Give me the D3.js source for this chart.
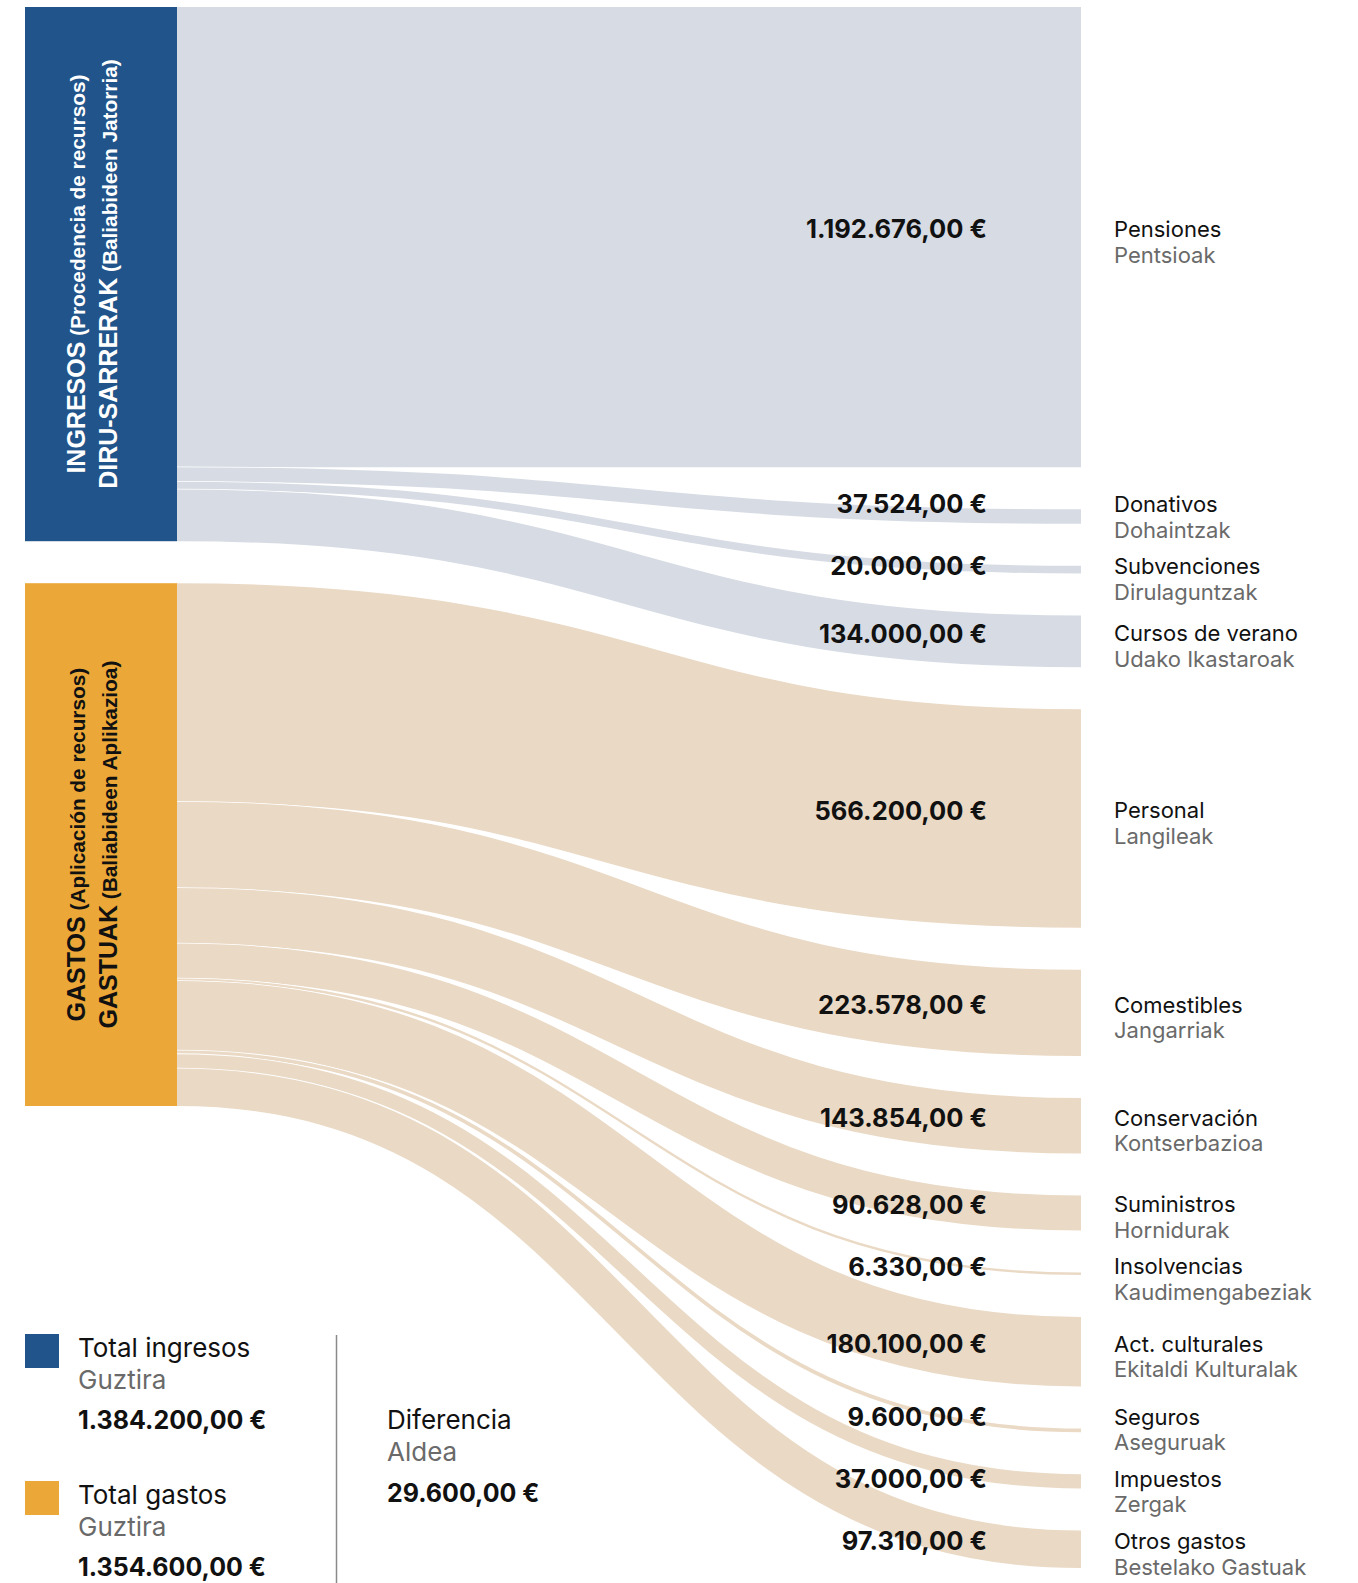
<!DOCTYPE html>
<html>
<head>
<meta charset="utf-8">
<script src="https://cdn.jsdelivr.net/npm/d3@7"></script>
<style>
  html, body { margin: 0; padding: 0; background: #ffffff; }
  svg { display: block; }
</style>
</head>
<body>
<svg id="chart" width="1358" height="1583"></svg>
<script>
// ---------- DATA ----------
const sourceKeys = ["ingresos", "gastos"];
const sourceTitles = ["INGRESOS", "GASTOS"];
const sourceSubtitles = ["(Procedencia de recursos)", "(Aplicación de recursos)"];
const sourceTitlesEu = ["DIRU-SARRERAK", "GASTUAK"];
const sourceSubtitlesEu = ["(Baliabideen Jatorria)", "(Baliabideen Aplikazioa)"];

const incomeCategories = ["Pensiones", "Donativos", "Subvenciones", "Cursos de verano"];
const incomeCategoriesEu = ["Pentsioak", "Dohaintzak", "Dirulaguntzak", "Udako Ikastaroak"];
const incomeValues = [1192676, 37524, 20000, 134000];

const expenseCategories = ["Personal", "Comestibles", "Conservación", "Suministros", "Insolvencias",
  "Act. culturales", "Seguros", "Impuestos", "Otros gastos"];
const expenseCategoriesEu = ["Langileak", "Jangarriak", "Kontserbazioa", "Hornidurak", "Kaudimengabeziak",
  "Ekitaldi Kulturalak", "Aseguruak", "Zergak", "Bestelako Gastuak"];
const expenseValues = [566200, 223578, 143854, 90628, 6330, 180100, 9600, 37000, 97310];

const legendLabels = ["Total ingresos", "Total gastos"];
const legendLabelsEu = ["Guztira", "Guztira"];
const diffLabel = "Diferencia";
const diffLabelEu = "Aldea";

// ---------- STYLE ----------
const nodeColors = { ingresos: "#21548A", gastos: "#EBA737" };
const linkColors = { ingresos: "#D7DCE4", gastos: "#EAD9C4" };
const nodeTextColors = { ingresos: "#ffffff", gastos: "#111111" };
const GREY = "#6a6a6a";
const INK = "#111111";
const SANS = "Inter, 'Noto Sans', sans-serif";
const ARIAL = "'Liberation Sans', Arial, sans-serif";

// ---------- LAYOUT ----------
const svg = d3.select("#chart");
const yTop = 7, yBottom = 1568, pad = 42;
const nodeX0 = 25, nodeX1 = 177, linkX1 = 1081;

const fmtLocale = d3.formatLocale({ decimal: ",", thousands: ".", grouping: [3], currency: ["", " €"] });
const fmt = v => fmtLocale.format(",.2f")(v) + " €";

const targets = [];
incomeCategories.forEach((c, i) => targets.push({ name: c, nameEu: incomeCategoriesEu[i], value: incomeValues[i], source: "ingresos" }));
expenseCategories.forEach((c, i) => targets.push({ name: c, nameEu: expenseCategoriesEu[i], value: expenseValues[i], source: "gastos" }));

const grandTotal = d3.sum(targets, d => d.value);
const usable = (yBottom - yTop) - (targets.length - 1) * pad;
const h = d3.scaleLinear().domain([0, grandTotal]).range([0, usable]);

// right column
let cy = yTop;
targets.forEach(t => { t.y0 = cy; t.y1 = cy + h(t.value); cy = t.y1 + pad; });

// left column
const totals = [d3.sum(incomeValues), d3.sum(expenseValues)];
const sources = [];
let sy = yTop;
sourceKeys.forEach((k, i) => {
  sources.push({ key: k, value: totals[i], y0: sy, y1: sy + h(totals[i]) });
  sy = sy + h(totals[i]) + pad;
});

// links
const links = [];
sources.forEach(s => {
  let off = s.y0;
  targets.filter(t => t.source === s.key).forEach(t => {
    const w = h(t.value);
    links.push({ source: s, target: t, width: w, sy: off + w / 2, ty: (t.y0 + t.y1) / 2 });
    off += w;
  });
});

const linkGen = d3.linkHorizontal().x(d => d[0]).y(d => d[1]);

const gLinks = svg.append("g");
links.forEach(l => {
  const d = linkGen({ source: [nodeX1, l.sy], target: [linkX1, l.ty] });
  gLinks.append("path").attr("d", d).attr("fill", "none")
    .attr("stroke", "#ffffff").attr("stroke-width", l.width + 1.6);
  gLinks.append("path").attr("d", d).attr("fill", "none")
    .attr("stroke", linkColors[l.source.key]).attr("stroke-width", Math.max(l.width, 0.5));
});

// nodes
const gNodes = svg.append("g");
sources.forEach((s, i) => {
  gNodes.append("rect").attr("x", nodeX0).attr("y", s.y0)
    .attr("width", nodeX1 - nodeX0).attr("height", s.y1 - s.y0)
    .attr("fill", nodeColors[s.key]);
  const g = gNodes.append("g")
    .attr("transform", `translate(0,${(s.y0 + s.y1) / 2}) rotate(-90)`)
    .attr("fill", nodeTextColors[s.key])
    .attr("font-family", ARIAL).attr("font-weight", "bold");
  const l1 = g.append("text").attr("x", 0).attr("y", 84.5).attr("text-anchor", "middle");
  l1.append("tspan").attr("font-size", 25).text(sourceTitles[i]);
  l1.append("tspan").attr("font-size", 20.8).text(" " + sourceSubtitles[i]);
  const l2 = g.append("text").attr("x", 0).attr("y", 116.5).attr("text-anchor", "middle");
  l2.append("tspan").attr("font-size", 25).text(sourceTitlesEu[i]);
  l2.append("tspan").attr("font-size", 20.8).text(" " + sourceSubtitlesEu[i]);
});

// right labels: desired position near band centre, then simple collision relaxation
const minGap = 62;
const ly = targets.map(t => (t.y0 + t.y1) / 2 - 8);
for (let it = 0; it < 20; it++) {
  for (let i = 1; i < ly.length; i++) {
    const ov = minGap - (ly[i] - ly[i - 1]);
    if (ov > 0) { ly[i - 1] -= ov / 2; ly[i] += ov / 2; }
  }
}

const gLab = svg.append("g");
targets.forEach((t, i) => {
  const y = ly[i];
  gLab.append("text").attr("x", 987).attr("y", y).attr("dy", "0.36em")
    .attr("text-anchor", "end").attr("font-family", SANS).attr("font-weight", 700)
    .attr("font-size", 25.5).attr("fill", INK).text(fmt(t.value));
  gLab.append("text").attr("x", 1114).attr("y", y).attr("dy", "0.36em")
    .attr("font-family", SANS).attr("font-size", 22).attr("fill", INK).text(t.name);
  gLab.append("text").attr("x", 1114).attr("y", y + 25.5).attr("dy", "0.36em")
    .attr("font-family", SANS).attr("font-size", 22).attr("fill", GREY).text(t.nameEu);
});

// legend
const gLeg = svg.append("g").attr("font-family", SANS);
const legTops = [1334, 1481];
sourceKeys.forEach((k, i) => {
  const y = legTops[i];
  gLeg.append("rect").attr("x", 25).attr("y", y).attr("width", 34).attr("height", 34).attr("fill", nodeColors[k]);
  gLeg.append("text").attr("x", 78).attr("y", y + 14).attr("dy", "0.36em").attr("font-size", 26).attr("fill", INK).text(legendLabels[i]);
  gLeg.append("text").attr("x", 78).attr("y", y + 46).attr("dy", "0.36em").attr("font-size", 26).attr("fill", GREY).text(legendLabelsEu[i]);
  gLeg.append("text").attr("x", 78).attr("y", y + 86).attr("dy", "0.36em").attr("font-size", 25).attr("font-weight", 700).attr("fill", INK).text(fmt(totals[i]));
});
gLeg.append("line").attr("x1", 336.5).attr("x2", 336.5).attr("y1", 1335).attr("y2", 1583)
  .attr("stroke", "#8a8a8a").attr("stroke-width", 1.5);
gLeg.append("text").attr("x", 387).attr("y", 1420).attr("dy", "0.36em").attr("font-size", 26).attr("fill", INK).text(diffLabel);
gLeg.append("text").attr("x", 387).attr("y", 1452).attr("dy", "0.36em").attr("font-size", 26).attr("fill", GREY).text(diffLabelEu);
gLeg.append("text").attr("x", 387).attr("y", 1493).attr("dy", "0.36em").attr("font-size", 25).attr("font-weight", 700).attr("fill", INK).text(fmt(totals[0] - totals[1]));
</script>
</body>
</html>
